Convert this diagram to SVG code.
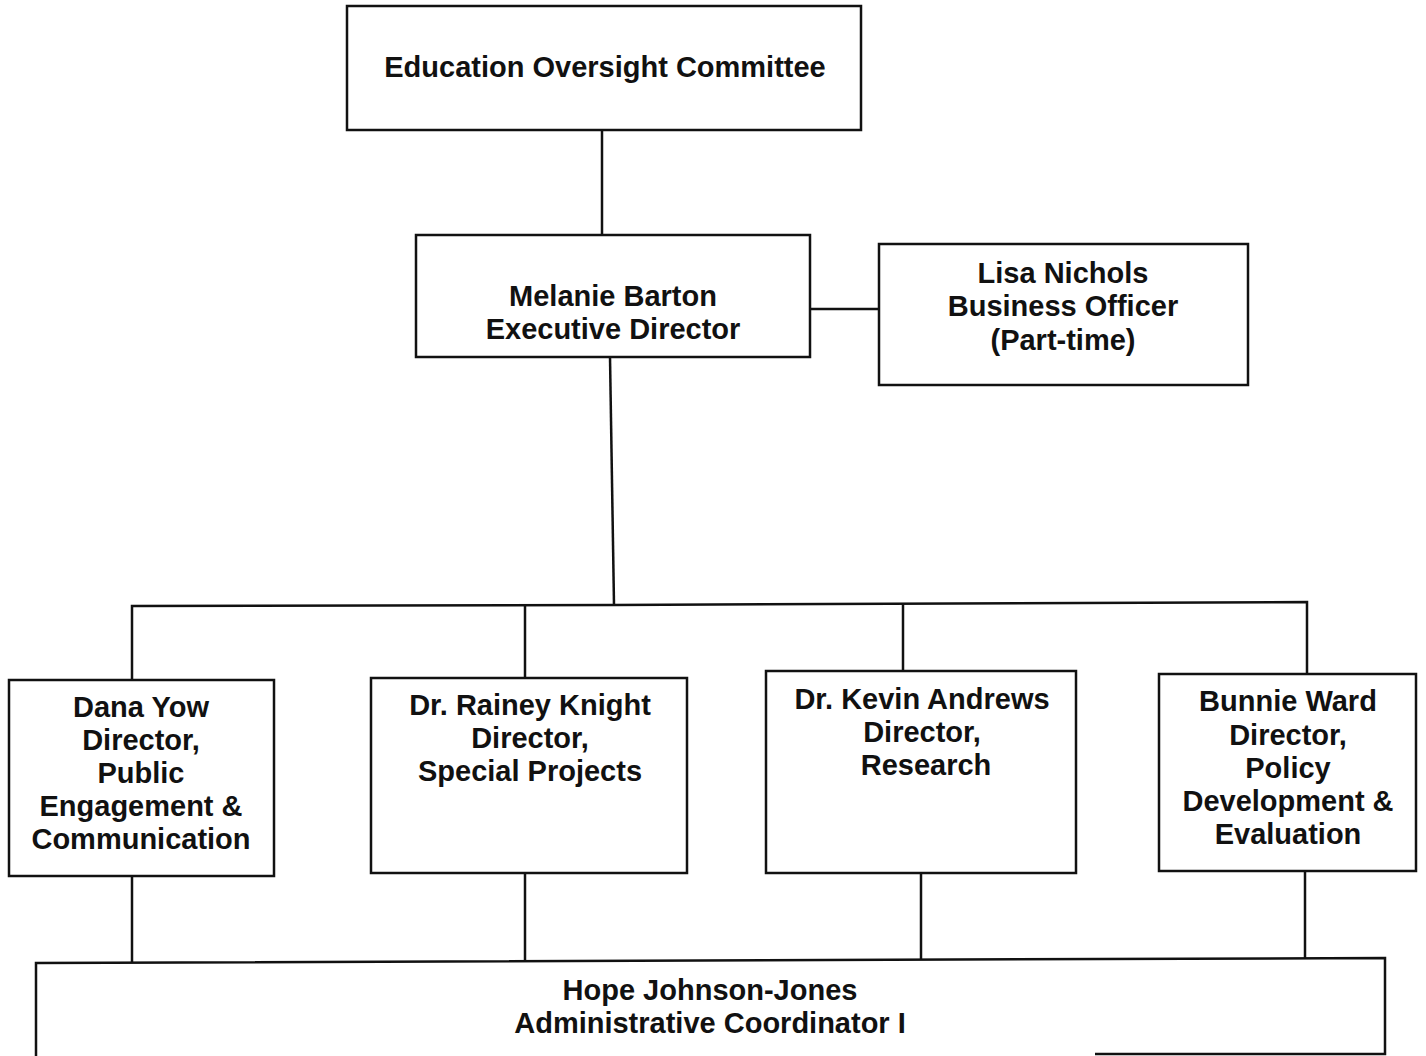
<svg xmlns="http://www.w3.org/2000/svg" width="1426" height="1056" viewBox="0 0 1426 1056">
<style>
.box{fill:#fff;stroke:#111;stroke-width:2.5}
.ln{fill:none;stroke:#111;stroke-width:2.5}
text{font-family:"Liberation Sans",Arial,sans-serif;font-weight:bold;font-size:29px;fill:#111;text-anchor:middle}
</style>
<rect width="1426" height="1056" fill="#fff"/>
<g id="connectors">
<line class="ln" x1="602" y1="130" x2="602" y2="235"/>
<line class="ln" x1="810" y1="309" x2="879" y2="309"/>
<line class="ln" x1="610" y1="357" x2="614" y2="605"/>
<polyline class="ln" points="132,680 132,606 614,605 1307,602 1307,674"/>
<line class="ln" x1="525" y1="605" x2="525" y2="678"/>
<line class="ln" x1="903" y1="604" x2="903" y2="671"/>
<line class="ln" x1="132" y1="876" x2="132" y2="963"/>
<line class="ln" x1="525" y1="873" x2="525" y2="962"/>
<line class="ln" x1="921" y1="873" x2="921" y2="960"/>
<line class="ln" x1="1305" y1="871" x2="1305" y2="959"/>
</g>
<g id="committee">
<rect class="box" x="347" y="6" width="514" height="124"/>
<text x="605" y="77">Education Oversight Committee</text>
</g>
<g id="barton">
<rect class="box" x="416" y="235" width="394" height="122"/>
<text x="613" y="306">Melanie Barton</text>
<text x="613" y="339">Executive Director</text>
</g>
<g id="nichols">
<rect class="box" x="879" y="244" width="369" height="141"/>
<text x="1063" y="283">Lisa Nichols</text>
<text x="1063" y="316">Business Officer</text>
<text x="1063" y="350">(Part-time)</text>
</g>
<g id="yow">
<rect class="box" x="9" y="680" width="265" height="196"/>
<text x="141" y="717">Dana Yow</text>
<text x="141" y="750">Director,</text>
<text x="141" y="783">Public</text>
<text x="141" y="816">Engagement &amp;</text>
<text x="141" y="849">Communication</text>
</g>
<g id="knight">
<rect class="box" x="371" y="678" width="316" height="195"/>
<text x="530" y="715">Dr. Rainey Knight</text>
<text x="530" y="748">Director,</text>
<text x="530" y="781">Special Projects</text>
</g>
<g id="andrews">
<rect class="box" x="766" y="671" width="310" height="202"/>
<text x="922" y="709">Dr. Kevin Andrews</text>
<text x="922" y="742">Director,</text>
<text x="926" y="775">Research</text>
</g>
<g id="ward">
<rect class="box" x="1159" y="674" width="257" height="197"/>
<text x="1288" y="711">Bunnie Ward</text>
<text x="1288" y="745">Director,</text>
<text x="1288" y="778">Policy</text>
<text x="1288" y="811">Development &amp;</text>
<text x="1288" y="844">Evaluation</text>
</g>
<g id="johnson-jones">
<path class="box" d="M36,1060 L36,963 L1385,958 L1385,1054 L1095,1054"/>
<text x="710" y="1000">Hope Johnson-Jones</text>
<text x="710" y="1033">Administrative Coordinator I</text>
</g>
</svg>
